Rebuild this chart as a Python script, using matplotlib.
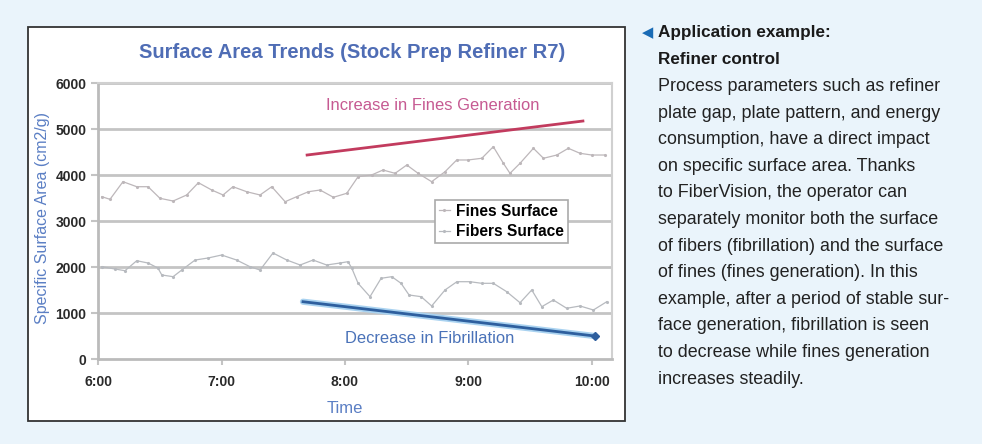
"""
Surface area trends chart with side caption (FiberVision refiner control example).
"""

import matplotlib.pyplot as plt
from matplotlib.patches import Rectangle

# figure size in pixels
W, H = 982, 444

# minutes after 6:00 and surface area (cm2/g)
fines_min = [1.7, 5.7, 12, 18.7, 24.2, 30, 36.4, 43, 48.7, 55.2, 60.7, 65.5, 72.2,
             78.7, 84.4, 90.9, 96.5, 102.2, 107.9, 114.4, 120.9, 126.4, 133, 138.5,
             144.4, 150.1, 155.6, 162.2, 168.7, 174.4, 179.9, 186.6, 192.2, 197.1,
             200.3, 205.2, 211.7, 216.6, 223.1, 228.7, 234.4, 240.1, 246.6]
fines_val = [3535, 3478, 3861, 3752, 3752, 3500, 3441, 3572, 3839, 3680, 3572, 3752, 3643,
             3572, 3752, 3426, 3535, 3643, 3680, 3522, 3609, 3970, 4007, 4115,
             4043, 4224, 4043, 3861, 4078, 4333, 4333, 4370, 4622, 4261,
             4043, 4261, 4587, 4370, 4441, 4587, 4478, 4441, 4441]

fibers_min = [1.7, 8.1, 13, 18.7, 24.2, 29, 30.9, 36.4, 40.6, 47.1, 53.4, 60, 67.3,
              73.8, 78.7, 85, 91.7, 98.2, 104.5, 111.1, 117.6, 121.5, 123.3, 126.4,
              132.2, 137.6, 142.8, 147.3, 151.2, 157.1, 162.2, 168.7, 174.5, 180.8,
              186.6, 192.2, 198.7, 205.2, 210.9, 215.8, 221.4, 227.9, 234.4, 240.9, 247.4]
fibers_val = [2013, 1963, 1926, 2143, 2093, 1985, 1833, 1796, 1941, 2158, 2202, 2267, 2158,
              2013, 1941, 2311, 2158, 2050, 2158, 2050, 2093, 2122, 1985, 1652,
              1361, 1761, 1796, 1652, 1398, 1361, 1159, 1507, 1687, 1687,
              1652, 1652, 1470, 1230, 1507, 1144, 1289, 1109, 1159, 1072, 1252]

# trend lines drawn on the chart
fines_trend_min = [101.6, 235.8]
fines_trend_val = [4441, 5180]
fibers_trend_min = [99.6, 241.6]
fibers_trend_val = [1252, 506]

tick_min = [0, 60, 120, 180, 240]
tick_labels = ["6:00", "7:00", "8:00", "9:00", "10:00"]

caption = [
    "Process parameters such as refiner",
    "plate gap, plate pattern, and energy",
    "consumption, have a direct impact",
    "on specific surface area. Thanks",
    "to FiberVision, the operator can",
    "separately monitor both the surface",
    "of fibers (fibrillation) and the surface",
    "of fines (fines generation). In this",
    "example, after a period of stable sur-",
    "face generation, fibrillation is seen",
    "to decrease while fines generation",
    "increases steadily.",
]

plt.rcParams["font.family"] = ["Liberation Sans", "DejaVu Sans"]


def px(x, y):
    # pixel position (from top-left) to figure fraction
    return x / W, 1 - y / H


fig = plt.figure(figsize=(W / 100, H / 100), dpi=100, facecolor="#eaf4fb")

# white chart box
fig.patches.append(Rectangle(px(28, 421), 597 / W, 394 / H, transform=fig.transFigure,
                             facecolor="white", edgecolor="#333333", lw=1.3, zorder=-1))

left, bottom = px(98.3, 359.3)
right, top = px(611.7, 83.3)
ax = fig.add_axes([left, bottom, right - left, top - bottom])
ax.set_facecolor("white")

grid_c = "#c4c4c4"
for v in [1000, 2000, 3000, 4000, 5000, 6000]:
    ax.axhline(v, color=grid_c, lw=2, zorder=1)

ax.plot(fines_min, fines_val, color="#bdb7ba", lw=0.9, marker=".", ms=2.5,
        label="Fines Surface", zorder=3)
ax.plot(fibers_min, fibers_val, color="#b7babf", lw=0.9, marker=".", ms=2.5,
        label="Fibers Surface", zorder=3)

ax.plot(fines_trend_min, fines_trend_val, color="#c23b5e", lw=2, zorder=4)
ax.plot(fibers_trend_min, fibers_trend_val, color="#a9d2f0", lw=4.5, zorder=4,
        solid_capstyle="round")
ax.plot(fibers_trend_min, fibers_trend_val, color="#2e5f9e", lw=2, zorder=5)
ax.plot(fibers_trend_min[-1:], fibers_trend_val[-1:], color="#2e5f9e", marker="D",
        ms=4, zorder=5)

ax.text(162.9, 5528, "Increase in Fines Generation", color="#c65a92", fontsize=11.9,
        ha="center", va="center")
ax.text(161.4, 463, "Decrease in Fibrillation", color="#4a72b8", fontsize=11.9,
        ha="center", va="center")

ax.set_xlim(0, 249.8)
ax.set_ylim(0, 6000)
ax.set_xticks(tick_min)
ax.set_xticklabels(tick_labels)
ax.set_yticks([0, 1000, 2000, 3000, 4000, 5000, 6000])
ax.tick_params(axis="both", colors=grid_c, labelcolor="#2a2a2a", labelsize=10,
               length=5, width=1.5)
ax.tick_params(axis="x", pad=7, length=4)
for lab in ax.get_xticklabels() + ax.get_yticklabels():
    lab.set_fontweight("bold")

for s in ["top", "right"]:
    ax.spines[s].set_color("#d0d0d0")
    ax.spines[s].set_linewidth(1.5)
for s in ["left", "bottom"]:
    ax.spines[s].set_color("#bbbbbb")
    ax.spines[s].set_linewidth(2)

leg = ax.legend(loc="upper left", bbox_to_anchor=px(435, 200), bbox_transform=fig.transFigure,
                fancybox=False, framealpha=1, edgecolor="#aaaaaa", fontsize=11.2,
                handlelength=0.7, handletextpad=0.4, borderpad=0.25, labelspacing=0.35,
                borderaxespad=0)
leg.get_frame().set_linewidth(1.2)
for t in leg.get_texts():
    t.set_fontweight("bold")
leg.set_zorder(6)

fig.text(*px(352, 52), "Surface Area Trends (Stock Prep Refiner R7)", color="#4f6db5",
         fontsize=14.5, fontweight="bold", ha="center", va="center")
fig.text(*px(43, 218), "Specific Surface Area (cm2/g)", color="#5b7fc4", fontsize=11.5,
         rotation=90, ha="center", va="center")
fig.text(*px(345, 408), "Time", color="#5b7fc4", fontsize=12, ha="center", va="center")

# caption on the right
fig.text(*px(648, 33), "\u25c0", color="#1a6bb5", fontsize=10.5, ha="center", va="center",
         family=["DejaVu Sans"])
fig.text(*px(658, 33), "Application example:", color="#1a1a1a", fontsize=12.3,
         fontweight="bold", ha="left", va="center")
fig.text(*px(658, 59.5), "Refiner control", color="#1a1a1a", fontsize=12.3,
         fontweight="bold", ha="left", va="center")
for i, line in enumerate(caption):
    fig.text(*px(658, 86.5 + i * 26.6), line, color="#222222", fontsize=12.9,
             ha="left", va="center")

fig.savefig("out.png", dpi=100, facecolor=fig.get_facecolor())
